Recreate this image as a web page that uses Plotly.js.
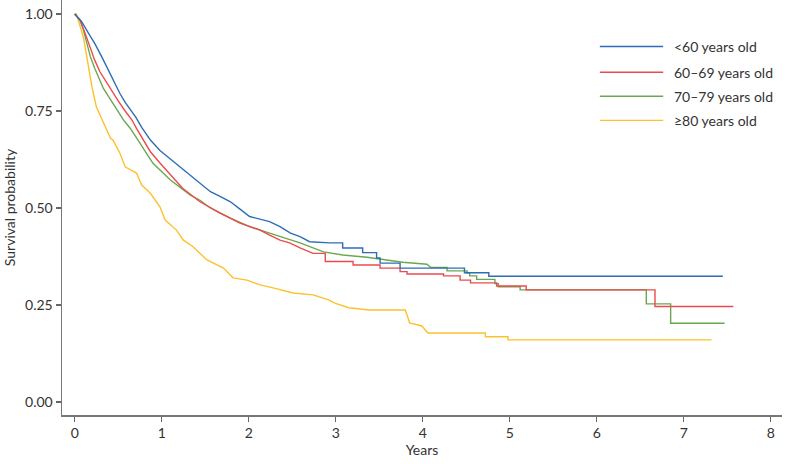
<!DOCTYPE html>
<html>
<head>
<meta charset="utf-8">
<script src="https://cdn.plot.ly/plotly-3.0.1.min.js"></script>
<style>
  html, body { margin: 0; padding: 0; background: #fff; }
  #plot { width: 789px; height: 464px; }
</style>
</head>
<body>
<div id="plot"></div>
<script>
// Kaplan-Meier curves (years, survival probability).
// Early parts are dense tiny steps, so they are read as a path;
// the larger visible steps later on are read as corner pairs.
const groupNames = ["<60 years old", "60–69 years old", "70–79 years old", "≥80 years old"];
const groupColors = ["#2d6db6", "#ec4a4c", "#6aa84f", "#fcc12e"];

const under60Time = [0, 0.08, 0.18, 0.23, 0.31, 0.37, 0.44, 0.52, 0.58, 0.64, 0.7, 0.77, 0.87, 0.98, 1.1, 1.22, 1.33, 1.44, 1.56, 1.67, 1.79, 1.9, 2.01, 2.24, 2.36, 2.48, 2.59, 2.7, 2.93, 3.08, 3.08, 3.31, 3.31, 3.47, 3.47, 3.51, 3.51, 3.74, 3.74, 4.48, 4.48, 4.76, 4.76, 7.45];
const under60Surv = [1, 0.98, 0.942, 0.924, 0.89, 0.862, 0.83, 0.795, 0.772, 0.755, 0.735, 0.708, 0.675, 0.648, 0.626, 0.605, 0.585, 0.566, 0.542, 0.53, 0.516, 0.497, 0.478, 0.465, 0.452, 0.435, 0.426, 0.413, 0.41, 0.41, 0.397, 0.397, 0.385, 0.385, 0.371, 0.371, 0.358, 0.358, 0.345, 0.345, 0.333, 0.333, 0.324, 0.324];

const age60Time = [0, 0.06, 0.12, 0.18, 0.23, 0.29, 0.37, 0.43, 0.5, 0.58, 0.66, 0.71, 0.79, 0.87, 0.98, 1.1, 1.24, 1.44, 1.67, 1.9, 2.13, 2.24, 2.36, 2.47, 2.59, 2.74, 2.88, 2.88, 3.2, 3.2, 3.51, 3.51, 3.74, 3.74, 3.82, 3.82, 4.24, 4.24, 4.43, 4.43, 4.55, 4.55, 4.85, 4.85, 5.19, 5.19, 6.67, 6.67, 7.57];
const age60Surv = [1, 0.985, 0.95, 0.912, 0.881, 0.851, 0.822, 0.8, 0.776, 0.75, 0.726, 0.705, 0.675, 0.645, 0.616, 0.585, 0.551, 0.516, 0.487, 0.461, 0.443, 0.43, 0.417, 0.41, 0.397, 0.383, 0.383, 0.362, 0.362, 0.353, 0.353, 0.345, 0.345, 0.336, 0.336, 0.33, 0.33, 0.325, 0.325, 0.314, 0.314, 0.307, 0.307, 0.299, 0.299, 0.289, 0.289, 0.246, 0.246];

const age70Time = [0, 0.06, 0.1, 0.14, 0.18, 0.23, 0.29, 0.33, 0.39, 0.44, 0.5, 0.56, 0.64, 0.71, 0.9, 1.1, 1.33, 1.44, 1.56, 1.79, 2.01, 2.24, 2.59, 2.86, 3.08, 3.36, 3.59, 3.77, 4.05, 4.09, 4.28, 4.28, 4.51, 4.51, 4.54, 4.54, 4.62, 4.62, 4.83, 4.83, 4.87, 4.87, 5.12, 5.12, 6.57, 6.57, 6.85, 6.85, 7.47];
const age70Surv = [1, 0.985, 0.959, 0.924, 0.89, 0.86, 0.83, 0.808, 0.787, 0.77, 0.748, 0.727, 0.705, 0.68, 0.615, 0.572, 0.533, 0.52, 0.5, 0.474, 0.452, 0.435, 0.41, 0.387, 0.379, 0.373, 0.366, 0.36, 0.355, 0.347, 0.347, 0.338, 0.338, 0.332, 0.332, 0.325, 0.325, 0.316, 0.316, 0.305, 0.305, 0.297, 0.297, 0.289, 0.289, 0.253, 0.253, 0.203, 0.203];

const over80Time = [0, 0.02, 0.1, 0.14, 0.2, 0.25, 0.33, 0.41, 0.44, 0.52, 0.58, 0.71, 0.77, 0.87, 0.98, 1.04, 1.17, 1.25, 1.36, 1.44, 1.52, 1.71, 1.82, 1.98, 2.13, 2.28, 2.51, 2.74, 2.82, 2.92, 2.99, 3.15, 3.38, 3.8, 3.82, 3.85, 3.99, 4.06, 4.72, 4.72, 4.98, 4.98, 7.32];
const over80Surv = [1, 1, 0.94, 0.89, 0.81, 0.76, 0.718, 0.68, 0.675, 0.641, 0.606, 0.59, 0.559, 0.538, 0.503, 0.469, 0.443, 0.417, 0.4, 0.383, 0.366, 0.345, 0.32, 0.314, 0.302, 0.294, 0.281, 0.276, 0.27, 0.263, 0.255, 0.243, 0.237, 0.237, 0.224, 0.204, 0.196, 0.178, 0.178, 0.168, 0.168, 0.16, 0.16];

const yTicks = [0, 0.25, 0.5, 0.75, 1];
const xTicks = [0, 1, 2, 3, 4, 5, 6, 7, 8];

const series = [
    [under60Time, under60Surv],
    [age60Time, age60Surv],
    [age70Time, age70Surv],
    [over80Time, over80Surv]
];

const font = "Lato, 'Noto Sans', sans-serif";

// draw the yellow first so blue ends up on top
const order = [3, 2, 1, 0];
const traces = order.map(i => ({
    x: series[i][0],
    y: series[i][1],
    type: "scatter",
    mode: "lines",
    line: { color: groupColors[i], width: 1.4 },
    name: groupNames[i],
    showlegend: false,
    hoverinfo: "skip"
}));

// hand-drawn legend, like the figure (long line samples)
const legendRows = [0.888, 0.826, 0.768, 0.710];
const shapes = groupNames.map((n, i) => ({
    type: "line", xref: "paper", yref: "paper",
    x0: 0.747, x1: 0.835, y0: legendRows[i], y1: legendRows[i],
    line: { color: groupColors[i], width: 1.4 }
}));
const annotations = groupNames.map((n, i) => ({
    xref: "paper", yref: "paper", x: 0.847, y: legendRows[i],
    xanchor: "left", yanchor: "middle", showarrow: false,
    text: n, font: { family: font, size: 14, color: "#333" }
}));

const layout = {
    width: 789, height: 464,
    margin: { l: 62, r: 7, t: 0, b: 49 },
    paper_bgcolor: "#fff", plot_bgcolor: "#fff",
    font: { family: font, size: 14, color: "#333" },
    xaxis: {
        range: [-0.146, 8.13],
        tickvals: xTicks,
        ticks: "outside", ticklen: 5, tickcolor: "#666", tickwidth: 1.2,
        showline: true, linecolor: "#777", linewidth: 1.5,
        showgrid: false, zeroline: false,
        title: { text: "Years", standoff: 4, font: { family: font, size: 14, color: "#333" } }
    },
    yaxis: {
        range: [-0.0335, 1.036],
        tickvals: yTicks, tickformat: ".2f",
        ticks: "outside", ticklen: 5, tickcolor: "#666", tickwidth: 1.2,
        showline: true, linecolor: "#777", linewidth: 1.5,
        showgrid: false, zeroline: false,
        title: { text: "Survival probability", standoff: 6, font: { family: font, size: 14, color: "#333" } }
    },
    shapes: shapes,
    annotations: annotations
};

Plotly.newPlot("plot", traces, layout, { staticPlot: true, displayModeBar: false });
</script>
</body>
</html>
